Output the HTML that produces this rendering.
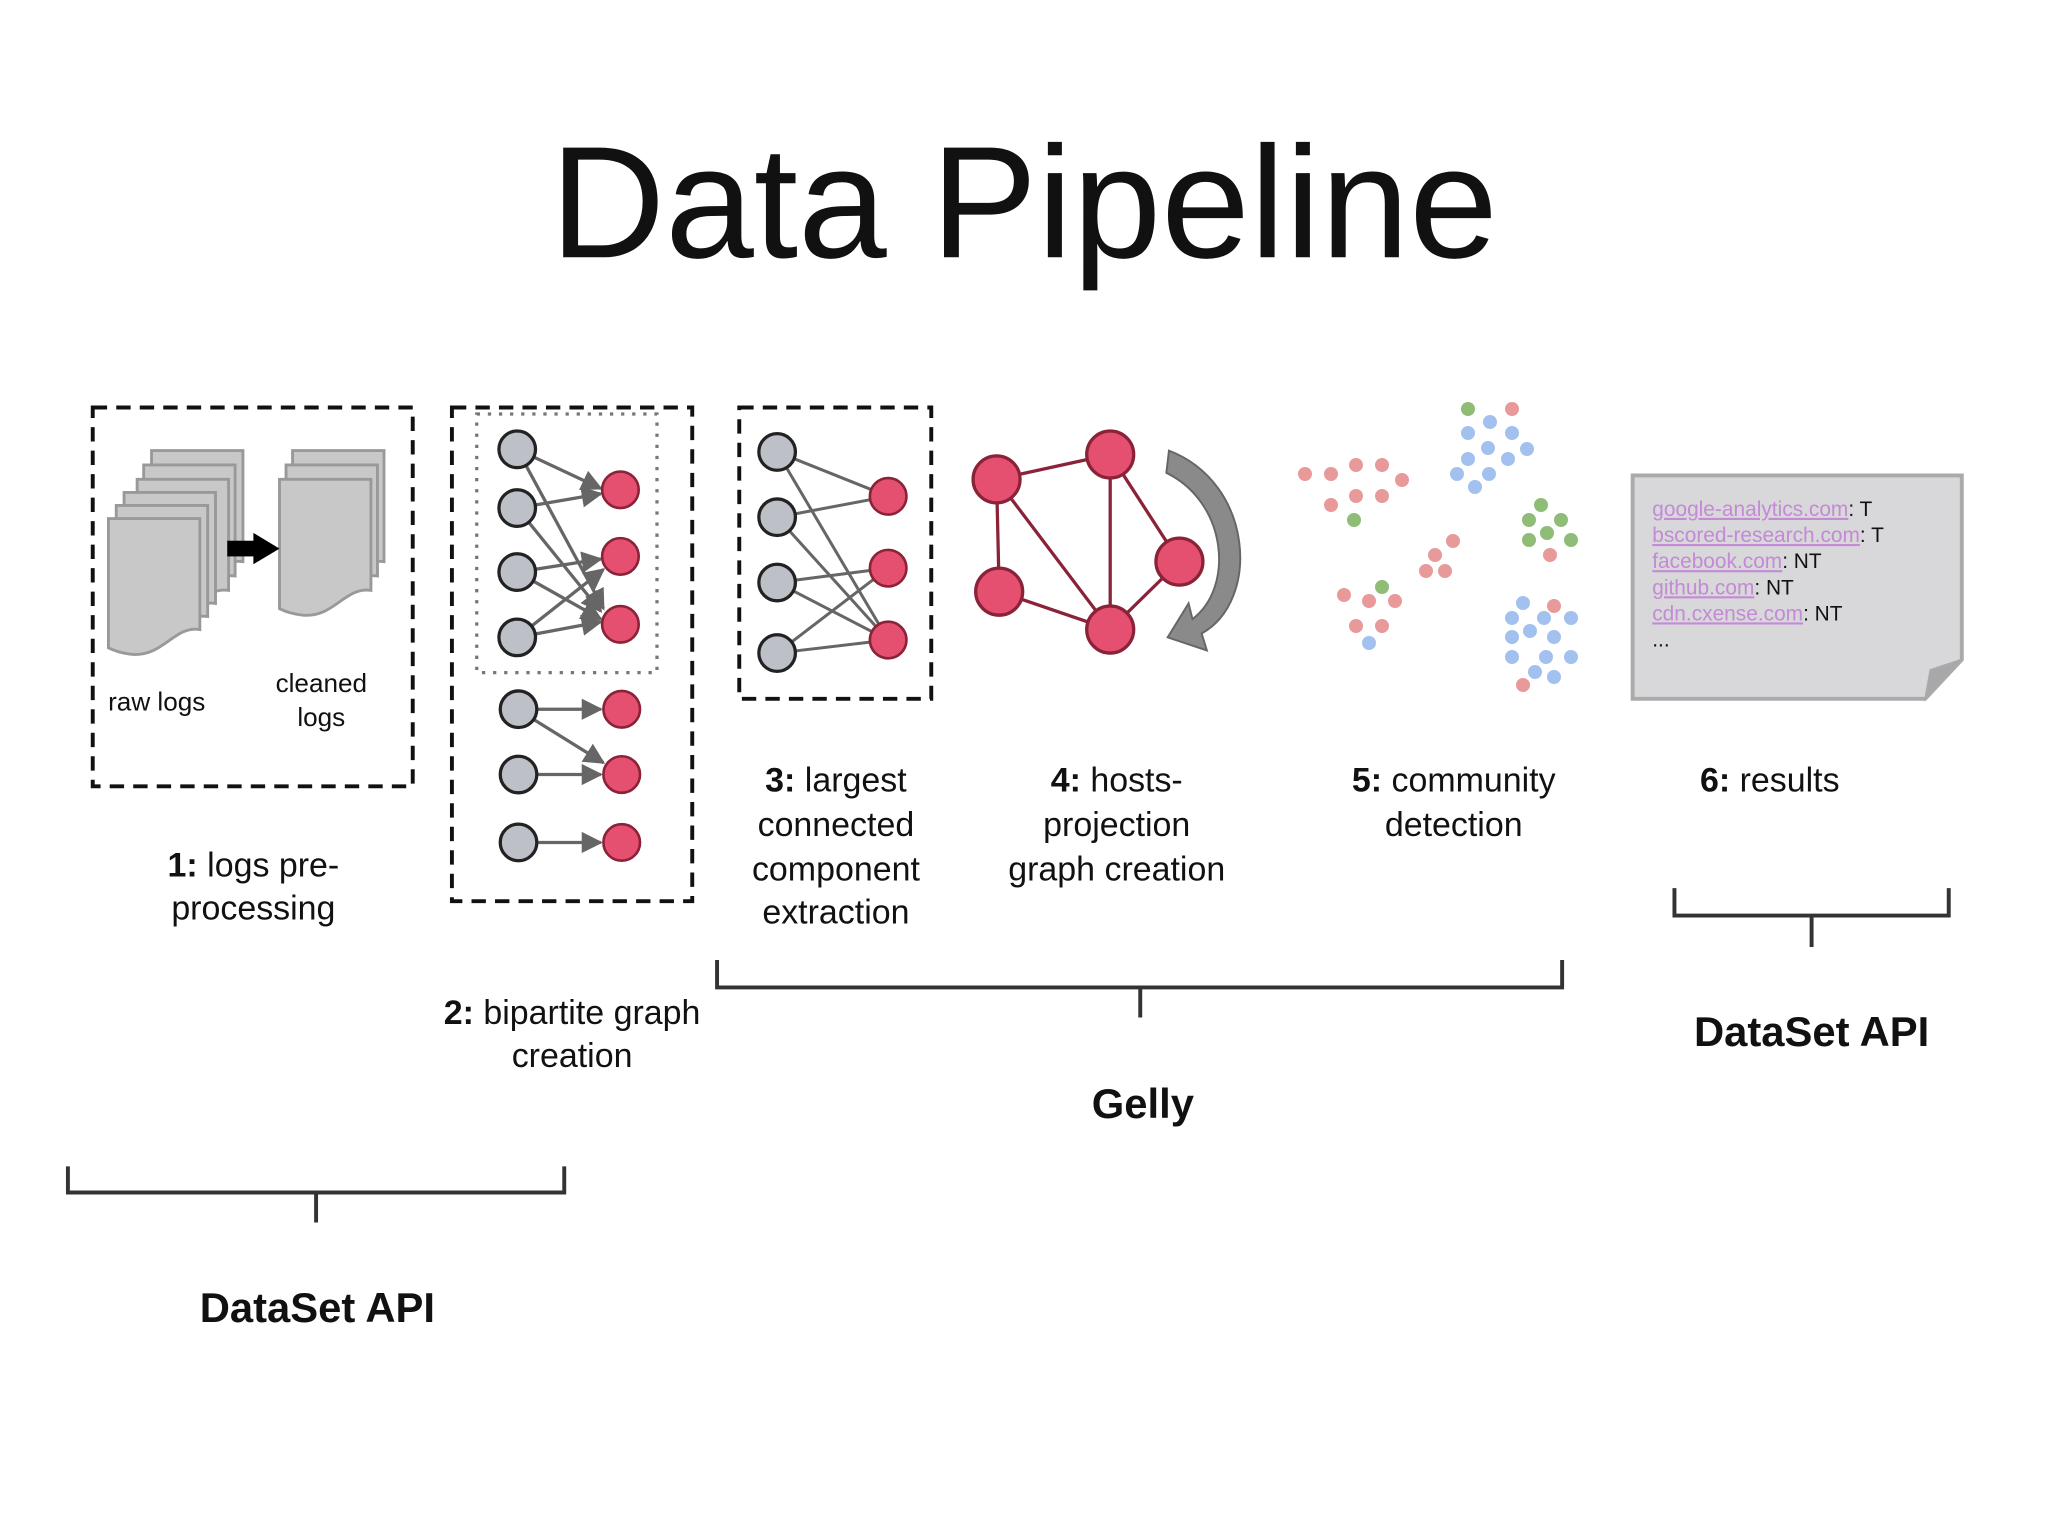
<!DOCTYPE html>
<html><head><meta charset="utf-8"><style>
html,body{margin:0;padding:0;background:#fff;}
svg{display:block;}
text{font-family:"Liberation Sans",Arial,sans-serif;}
</style></head><body>
<svg width="2048" height="1536" viewBox="0 0 1568 1176" xmlns="http://www.w3.org/2000/svg">
<defs>
<marker id="ar" viewBox="0 0 10 10" refX="9" refY="5" markerWidth="6.5" markerHeight="6.5" orient="auto" markerUnits="strokeWidth"><path d="M0,0 L10,5 L0,10 Z" fill="#666"/></marker>
<path id="doc" d="M0,0 H70 V85 C50,82 42,106 18,104 C9,103 4,101 0,99 Z"/>
</defs>
<rect width="1568" height="1176" fill="#fff"/>
<text x="784" y="197" font-size="122" text-anchor="middle" fill="#111">Data Pipeline</text>

<!-- box 1 -->
<rect x="71" y="312" width="245" height="290" fill="none" stroke="#111" stroke-width="3" stroke-dasharray="11,7"/>
<g fill="#c8c8c8" stroke="#999" stroke-width="2.2">
<use href="#doc" x="116" y="345"/><use href="#doc" x="110" y="356"/><use href="#doc" x="105" y="367"/>
<use href="#doc" x="95" y="377"/><use href="#doc" x="89" y="387"/><use href="#doc" x="83" y="397"/>
<use href="#doc" x="224" y="345"/><use href="#doc" x="219" y="356"/><use href="#doc" x="214" y="367"/>
</g>
<rect x="174" y="414" width="22" height="12" fill="#000"/>
<path d="M194,408 L214,420 L194,432 Z" fill="#000"/>
<text x="120" y="544" font-size="20" text-anchor="middle" fill="#111">raw logs</text>
<text x="246" y="530" font-size="20" text-anchor="middle" fill="#111">cleaned</text>
<text x="246" y="556" font-size="20" text-anchor="middle" fill="#111">logs</text>

<!-- box 2 -->
<rect x="346" y="312" width="184" height="378" fill="none" stroke="#111" stroke-width="3" stroke-dasharray="11,7"/>
<rect x="365" y="317" width="138" height="198" fill="none" stroke="#777" stroke-width="2.5" stroke-dasharray="2.5,6"/>
<g stroke="#666" stroke-width="2.5" marker-end="url(#ar)">
<line x1="396" y1="344" x2="460" y2="374"/><line x1="396" y1="344" x2="462" y2="466"/>
<line x1="396" y1="389" x2="460" y2="378"/><line x1="396" y1="389" x2="460" y2="468"/>
<line x1="396" y1="438" x2="460" y2="428"/><line x1="396" y1="438" x2="460" y2="474"/>
<line x1="396" y1="488" x2="462" y2="436"/><line x1="396" y1="488" x2="460" y2="476"/>
<line x1="396" y1="543" x2="460" y2="543"/><line x1="396" y1="543" x2="462" y2="584"/>
<line x1="396" y1="593" x2="460" y2="593"/><line x1="396" y1="645" x2="460" y2="645"/>
</g>
<g fill="#bdc1c7" stroke="#222" stroke-width="2.5">
<circle cx="396" cy="344" r="14"/><circle cx="396" cy="389" r="14"/><circle cx="396" cy="438" r="14"/><circle cx="396" cy="488" r="14"/>
<circle cx="397" cy="543" r="14"/><circle cx="397" cy="593" r="14"/><circle cx="397" cy="645" r="14"/>
</g>
<g fill="#e54f70" stroke="#8a2238" stroke-width="2">
<circle cx="475" cy="375" r="14"/><circle cx="475" cy="426" r="14"/><circle cx="475" cy="478" r="14"/>
<circle cx="476" cy="543" r="14"/><circle cx="476" cy="593" r="14"/><circle cx="476" cy="645" r="14"/>
</g>

<!-- box 3 -->
<rect x="566" y="312" width="147" height="223" fill="none" stroke="#111" stroke-width="3" stroke-dasharray="11,7"/>
<g stroke="#666" stroke-width="2.3">
<line x1="595" y1="346" x2="680" y2="380"/><line x1="595" y1="346" x2="680" y2="490"/>
<line x1="595" y1="396" x2="680" y2="380"/><line x1="595" y1="396" x2="680" y2="490"/>
<line x1="595" y1="446" x2="680" y2="435"/><line x1="595" y1="446" x2="680" y2="490"/>
<line x1="595" y1="500" x2="680" y2="435"/><line x1="595" y1="500" x2="680" y2="490"/>
</g>
<g fill="#bdc1c7" stroke="#222" stroke-width="2.5">
<circle cx="595" cy="346" r="14"/><circle cx="595" cy="396" r="14"/><circle cx="595" cy="446" r="14"/><circle cx="595" cy="500" r="14"/>
</g>
<g fill="#e54f70" stroke="#8a2238" stroke-width="2">
<circle cx="680" cy="380" r="14"/><circle cx="680" cy="435" r="14"/><circle cx="680" cy="490" r="14"/>
</g>

<!-- graph 4 -->
<g stroke="#8a2238" stroke-width="2.5">
<line x1="763" y1="367" x2="850" y2="348"/><line x1="763" y1="367" x2="765" y2="453"/>
<line x1="763" y1="367" x2="850" y2="482"/><line x1="850" y1="348" x2="850" y2="482"/>
<line x1="850" y1="348" x2="903" y2="430"/><line x1="765" y1="453" x2="850" y2="482"/>
<line x1="850" y1="482" x2="903" y2="430"/>
</g>
<g fill="#e54f70" stroke="#8a2238" stroke-width="2.5">
<circle cx="763" cy="367" r="18"/><circle cx="850" cy="348" r="18"/><circle cx="765" cy="453" r="18"/>
<circle cx="850" cy="482" r="18"/><circle cx="903" cy="430" r="18"/>
</g>
<path d="M895,345 C960,370 965,460 920,485 L924,498 L894,488 L910,462 L913,474 C945,450 940,385 893,362 Z" fill="#8a8a8a" stroke="#666" stroke-width="1.5"/>

<!-- community dots (2048-space coords) -->
<g transform="scale(0.765625)">
<g fill="#e89a9a">
<circle cx="1305" cy="474" r="7"/><circle cx="1331" cy="474" r="7"/><circle cx="1356" cy="465" r="7"/><circle cx="1382" cy="465" r="7"/><circle cx="1402" cy="480" r="7"/><circle cx="1356" cy="496" r="7"/><circle cx="1382" cy="496" r="7"/><circle cx="1331" cy="505" r="7"/>
<circle cx="1512" cy="409" r="7"/><circle cx="1550" cy="555" r="7"/>
<circle cx="1453" cy="541" r="7"/><circle cx="1435" cy="555" r="7"/><circle cx="1426" cy="571" r="7"/><circle cx="1445" cy="571" r="7"/>
<circle cx="1344" cy="595" r="7"/><circle cx="1369" cy="601" r="7"/><circle cx="1395" cy="601" r="7"/><circle cx="1356" cy="626" r="7"/><circle cx="1382" cy="626" r="7"/>
<circle cx="1554" cy="606" r="7"/><circle cx="1523" cy="685" r="7"/>
</g>
<g fill="#8fbd78">
<circle cx="1354" cy="520" r="7"/><circle cx="1468" cy="409" r="7"/><circle cx="1382" cy="587" r="7"/>
<circle cx="1541" cy="505" r="7"/><circle cx="1529" cy="520" r="7"/><circle cx="1561" cy="520" r="7"/><circle cx="1547" cy="533" r="7"/><circle cx="1529" cy="540" r="7"/><circle cx="1571" cy="540" r="7"/>
</g>
<g fill="#a3c1ef">
<circle cx="1490" cy="422" r="7"/><circle cx="1468" cy="433" r="7"/><circle cx="1512" cy="433" r="7"/><circle cx="1488" cy="448" r="7"/><circle cx="1527" cy="449" r="7"/><circle cx="1468" cy="459" r="7"/><circle cx="1508" cy="459" r="7"/><circle cx="1457" cy="474" r="7"/><circle cx="1489" cy="474" r="7"/><circle cx="1475" cy="487" r="7"/>
<circle cx="1369" cy="643" r="7"/>
<circle cx="1523" cy="603" r="7"/><circle cx="1512" cy="618" r="7"/><circle cx="1544" cy="618" r="7"/><circle cx="1571" cy="618" r="7"/><circle cx="1530" cy="631" r="7"/><circle cx="1512" cy="637" r="7"/><circle cx="1554" cy="637" r="7"/><circle cx="1512" cy="657" r="7"/><circle cx="1546" cy="657" r="7"/><circle cx="1571" cy="657" r="7"/><circle cx="1535" cy="672" r="7"/><circle cx="1554" cy="677" r="7"/>
</g>
</g>

<!-- results -->
<path d="M1250,364 H1502 V505 L1474,535 H1250 Z" fill="#d8d7da" stroke="#aaa" stroke-width="3"/>
<path d="M1474,535 L1478,513 L1502,505 Z" fill="#a8a8ab" stroke="#aaa" stroke-width="1.5"/>
<g font-size="16" fill="#111">
<text x="1265" y="395"><tspan fill="#c48ad6" text-decoration="underline">google-analytics.com</tspan>: T</text>
<text x="1265" y="415"><tspan fill="#c48ad6" text-decoration="underline">bscored-research.com</tspan>: T</text>
<text x="1265" y="435"><tspan fill="#c48ad6" text-decoration="underline">facebook.com</tspan>: NT</text>
<text x="1265" y="455"><tspan fill="#c48ad6" text-decoration="underline">github.com</tspan>: NT</text>
<text x="1265" y="475"><tspan fill="#c48ad6" text-decoration="underline">cdn.cxense.com</tspan>: NT</text>
<text x="1265" y="495">...</text>
</g>

<!-- labels -->
<g font-size="26" fill="#111" text-anchor="middle">
<text x="194" y="671"><tspan font-weight="bold">1:</tspan> logs pre-</text>
<text x="194" y="704">processing</text>
<text x="438" y="784"><tspan font-weight="bold">2:</tspan> bipartite graph</text>
<text x="438" y="817">creation</text>
<text x="640" y="606"><tspan font-weight="bold">3:</tspan> largest</text>
<text x="640" y="640">connected</text>
<text x="640" y="674">component</text>
<text x="640" y="707">extraction</text>
<text x="855" y="606"><tspan font-weight="bold">4:</tspan> hosts-</text>
<text x="855" y="640">projection</text>
<text x="855" y="674">graph creation</text>
<text x="1113" y="606"><tspan font-weight="bold">5:</tspan> community</text>
<text x="1113" y="640">detection</text>
<text x="1355" y="606"><tspan font-weight="bold">6:</tspan> results</text>
</g>
<g font-size="32" font-weight="bold" fill="#111" text-anchor="middle">
<text x="243" y="1012">DataSet API</text>
<text x="875" y="856">Gelly</text>
<text x="1387" y="801">DataSet API</text>
</g>

<!-- braces -->
<g fill="none" stroke="#333" stroke-width="3">
<path d="M52,893 V913 H432 V893 M242,913 V936"/>
<path d="M549,735 V756 H1196 V735 M873,756 V779"/>
<path d="M1282,680 V701 H1492 V680 M1387,701 V725"/>
</g>
</svg>
</body></html>
